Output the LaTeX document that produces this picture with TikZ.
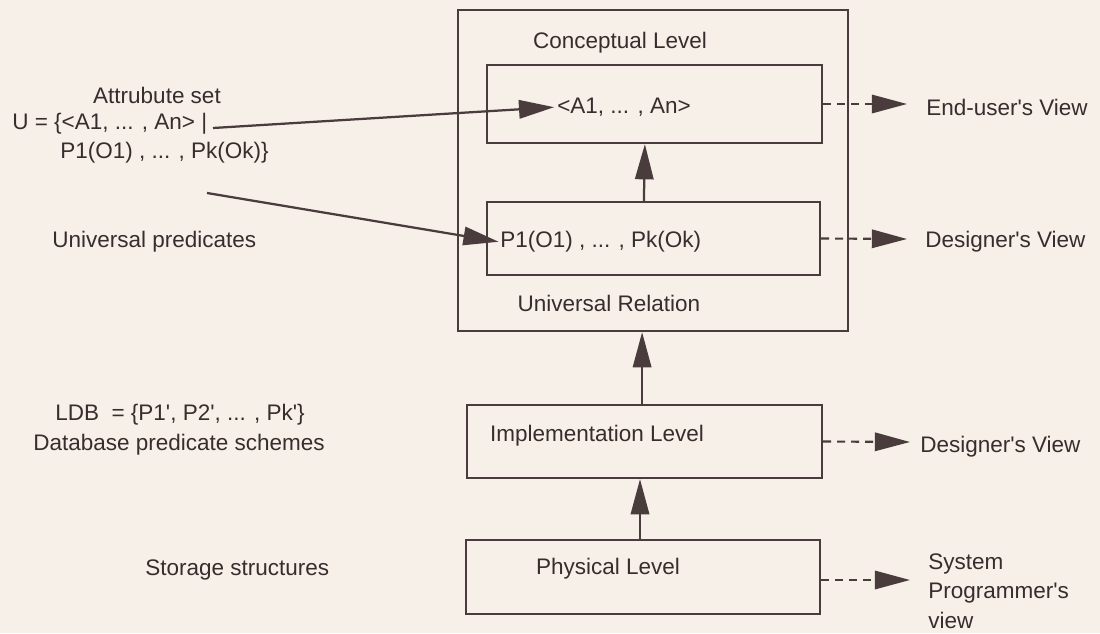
\documentclass[tikz,border=0pt]{standalone}
\usepackage{fontspec}
\setmainfont{Liberation Sans}
\usetikzlibrary{arrows.meta}
\definecolor{bg}{RGB}{246,240,232}
\definecolor{ink}{RGB}{74,60,60}
\definecolor{txt}{RGB}{55,45,45}
\newcommand{\apo}{\textquotesingle}
\begin{document}
\begin{tikzpicture}[x=0.025cm,y=-0.025cm,
  box/.style={draw=ink,line width=1.6pt,inner sep=0pt,rectangle},
  lbl/.style={text=txt,font=\fontsize{16pt}{18pt}\selectfont,inner sep=0pt},
  solidarrow/.style={draw=ink,line width=1.6pt,-{Triangle[length=0.88cm,width=0.46cm]}},
  dasharrow/.style={draw=ink,line width=1.5pt,dash pattern=on 0.2cm off 0.15cm,-{Triangle[length=0.88cm,width=0.46cm]}}]
\useasboundingbox[fill=bg] (0,0) rectangle (1100,633);

% boxes
\node[box,minimum width=9.75cm,minimum height=8.025cm] (outer) at (653,170.5) {};
\node[box,minimum width=8.375cm,minimum height=1.95cm] (concept) at (654.5,104) {};
\node[box,minimum width=8.325cm,minimum height=1.825cm] (pred) at (653.5,238.5) {};
\node[box,minimum width=8.875cm,minimum height=1.825cm] (impl) at (644.5,441.5) {};
\node[box,minimum width=8.85cm,minimum height=1.85cm] (phys) at (643,577) {};

% texts inside
\node[lbl] (cl) at (620,43) {Conceptual Level};
\node[lbl,anchor=west] (a1) at (557,107) {<A1, ... , An>};
\node[lbl,anchor=west] (p1) at (500,242) {P1(O1) , ... , Pk(Ok)};
\node[lbl] (ur) at (609,303) {Universal Relation};
\node[lbl] (il) at (597,436) {Implementation Level};
\node[lbl] (pl) at (608,569) {Physical Level};

% right texts
\node[lbl,anchor=west] (eu) at (926,107) {End-user\apo s View};
\node[lbl,anchor=west] (dv1) at (925,242) {Designer\apo s View};
\node[lbl,anchor=west] (dv2) at (920,447) {Designer\apo s View};
\node[lbl,anchor=west,align=left,font=\fontsize{16pt}{21pt}\selectfont] (sp) at (928,591) {System\\Programmer\apo s\\view};

% left texts
\node[lbl] (as) at (157,95) {Attrubute set};
\node[lbl,anchor=west] (u1) at (12,124) {U = \{<A1, ... , An> |};
\node[lbl,anchor=west] (u2) at (60,153) {P1(O1) , ... , Pk(Ok)\}};
\node[lbl,anchor=west] (up) at (52,242) {Universal predicates};
\node[lbl,anchor=west] (ldb) at (55,415) {LDB\ \ = \{P1\apo, P2\apo, ... , Pk\apo\}};
\node[lbl,anchor=west] (dps) at (33,445) {Database predicate schemes};
\node[lbl,anchor=west] (ss) at (145,570) {Storage structures};

% slanted arrows
\coordinate (s1) at (213,128);
\coordinate (s2) at (207,193);
\draw[solidarrow,shorten >=2pt] (s1) -- (a1.west);
\draw[solidarrow,shorten >=1pt] (s2) -- (p1.west);

% vertical arrows
\draw[solidarrow] ([xshift=-0.24cm]pred.north) -- ([xshift=-0.24cm]concept.south);
\coordinate (ia) at ([xshift=-0.06cm]impl.north);
\draw[solidarrow] (ia) -- (ia |- outer.south);
\coordinate (pa) at ([xshift=-0.075cm]phys.north);
\draw[solidarrow] (pa) -- (pa |- impl.south);

% dashed arrows
\coordinate (t1) at (907,104);
\coordinate (t2) at (907,239);
\coordinate (t3) at (910,442);
\coordinate (t4) at (910,580);
\draw[dasharrow] (concept.east) -- (t1);
\draw[dasharrow] (pred.east) -- (t2);
\draw[dasharrow] (impl.east) -- (t3);
\draw[dasharrow] (phys.east |- t4) -- (t4);
\end{tikzpicture}
\end{document}
